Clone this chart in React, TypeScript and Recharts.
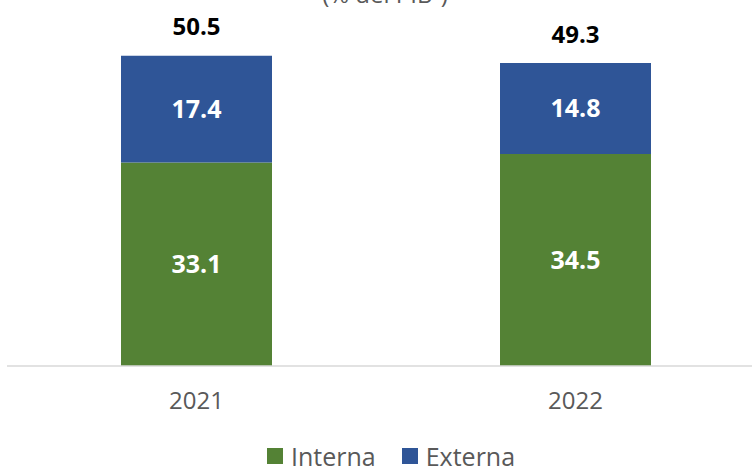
import { BarChart, Bar, XAxis, YAxis, LabelList } from 'recharts';

const years = ['2021', '2022'];
const interna = [33.1, 34.5];
const externa = [17.4, 14.8];
const totals = [50.5, 49.3];
const seriesNames = ['Interna', 'Externa'];

const data = years.map((year, i) => ({ year, interna: interna[i], externa: externa[i], total: totals[i] }));

const FONT = '"Open Sans", sans-serif';
const GREEN = '#548235';
const BLUE = '#2F5597';
const colors = [GREEN, BLUE];

function TotalLabel(props: any) {
  const { x, y, width, index } = props;
  return (
    <text
      x={x + width / 2}
      y={y - 30}
      textAnchor="middle"
      dominantBaseline="central"
      fontFamily={FONT}
      fontWeight={700}
      fontSize={24}
      fill="#000000"
    >
      {totals[index].toFixed(1)}
    </text>
  );
}

function LegendBox() {
  return (
    <div
      style={{
        position: 'absolute',
        left: 267,
        top: 443,
        display: 'flex',
        gap: 26,
        fontFamily: FONT,
        fontSize: 25,
        lineHeight: '26px',
        color: '#595959',
        whiteSpace: 'nowrap',
      }}
    >
      {seriesNames.map((name, i) => (
        <div key={name} style={{ display: 'flex', alignItems: 'center', gap: 8 }}>
          <div style={{ width: 16, height: 16, background: colors[i] }} />
          <span>{name}</span>
        </div>
      ))}
    </div>
  );
}

export default function App() {
  return (
    <div style={{ position: 'absolute', left: 0, top: 0, width: 752, height: 466, overflow: 'hidden', background: '#fff' }}>
      <BarChart width={752} height={466} data={data} margin={{ top: 28, right: -13, left: 7, bottom: 30 }}>
        <text x={385} y={3} textAnchor="middle" fontFamily={FONT} fontSize={24} fill="#595959">
          (% del PIB¹)
        </text>
        <XAxis
          dataKey="year"
          height={70}
          axisLine={{ stroke: '#D9D9D9', strokeWidth: 1.5 }}
          tickLine={false}
          tick={{ fill: '#595959', fontSize: 24, fontFamily: FONT }}
          tickMargin={20}
        />
        <YAxis hide domain={[0, 55]} />
        <Bar dataKey="interna" stackId="a" fill={GREEN} barSize={151} isAnimationActive={false}>
          <LabelList
            dataKey="interna"
            position="center"
            fill="#ffffff"
            fontSize={25}
            fontWeight={700}
            fontFamily={FONT}
            formatter={(v: any) => Number(v).toFixed(1)}
          />
        </Bar>
        <Bar dataKey="externa" stackId="a" fill={BLUE} barSize={151} isAnimationActive={false}>
          <LabelList
            dataKey="externa"
            position="center"
            fill="#ffffff"
            fontSize={25}
            fontWeight={700}
            fontFamily={FONT}
            formatter={(v: any) => Number(v).toFixed(1)}
          />
          <LabelList dataKey="total" content={<TotalLabel />} />
        </Bar>
      </BarChart>
      <LegendBox />
    </div>
  );
}
